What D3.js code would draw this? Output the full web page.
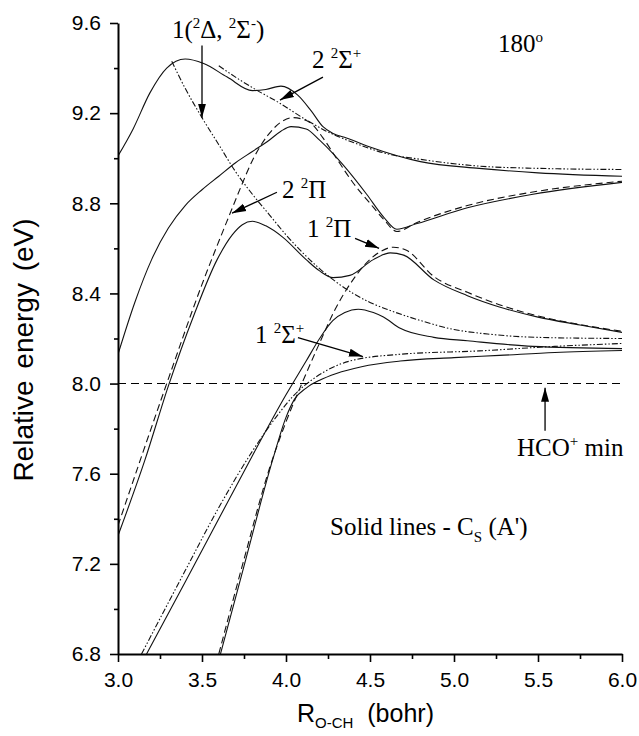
<!DOCTYPE html>
<html>
<head>
<meta charset="utf-8">
<script src="https://cdn.jsdelivr.net/npm/d3@7"></script>
<style>
  body { margin: 0; background: #fff; }
  svg { display: block; }
</style>
</head>
<body>
<div id="chart"></div>
<script>
// Potential curves at 180 deg (R in bohr, E in eV)
const xTicks = [3.0, 3.5, 4.0, 4.5, 5.0, 5.5, 6.0];
const xMinor = [3.25, 3.75, 4.25, 4.75, 5.25, 5.75];
const yTicks = [6.8, 7.2, 7.6, 8.0, 8.4, 8.8, 9.2, 9.6];
const yMinor = [7.0, 7.4, 7.8, 8.2, 8.6, 9.0, 9.4];
const hcoMin = 8.0;

// solid lines (Cs A')
const solidTop = [[3.00,9.01],[3.09,9.13],[3.19,9.29],[3.29,9.40],[3.40,9.44],[3.51,9.42],[3.65,9.36],[3.80,9.30],[3.88,9.305],[3.97,9.32],[4.07,9.28],[4.15,9.21],[4.22,9.14],[4.28,9.11],[4.36,9.09],[4.50,9.05],[4.80,8.985],[5.15,8.955],[5.50,8.935],[6.00,8.92]];
const solidSecond = [[3.00,8.13],[3.10,8.36],[3.20,8.55],[3.30,8.69],[3.40,8.79],[3.50,8.86],[3.60,8.92],[3.70,8.98],[3.80,9.03],[3.90,9.08],[3.97,9.12],[4.03,9.14],[4.12,9.13],[4.20,9.08],[4.28,9.02],[4.34,8.97],[4.48,8.84],[4.58,8.74],[4.66,8.685],[4.78,8.71],[5.08,8.78],[5.47,8.84],[6.00,8.893]];
const solidThird = [[3.00,7.325],[3.16,7.66],[3.30,7.99],[3.45,8.30],[3.59,8.55],[3.68,8.66],[3.74,8.705],[3.80,8.72],[3.88,8.70],[3.98,8.65],[4.12,8.55],[4.20,8.50],[4.28,8.47],[4.38,8.48],[4.52,8.55],[4.62,8.58],[4.70,8.57],[4.88,8.46],[5.08,8.39],[5.27,8.34],[5.50,8.295],[5.75,8.26],[6.00,8.227]];
const solidFourth = [[3.17,6.80],[3.40,7.12],[3.60,7.40],[3.80,7.68],[4.00,7.95],[4.12,8.10],[4.20,8.20],[4.28,8.28],[4.35,8.315],[4.43,8.33],[4.52,8.315],[4.58,8.295],[4.68,8.245],[4.88,8.205],[5.08,8.19],[5.47,8.165],[6.00,8.155]];
const solidLowest = [[3.61,6.80],[3.75,7.19],[3.92,7.66],[4.00,7.85],[4.05,7.93],[4.12,7.98],[4.20,8.015],[4.30,8.045],[4.45,8.075],[4.68,8.10],[5.00,8.115],[5.27,8.125],[5.60,8.138],[6.00,8.147]];

// dashed lines (Pi states)
const pi2 = [[3.00,7.37],[3.29,8.00],[3.50,8.44],[3.67,8.76],[3.73,8.87],[3.80,8.99],[3.89,9.10],[3.98,9.165],[4.04,9.18],[4.14,9.16],[4.22,9.09],[4.30,9.00],[4.40,8.89],[4.50,8.80],[4.58,8.73],[4.66,8.675],[4.78,8.715],[5.08,8.79],[5.47,8.85],[6.00,8.898]];
const pi1 = [[3.60,6.80],[3.75,7.22],[3.90,7.62],[4.00,7.83],[4.10,8.01],[4.20,8.18],[4.30,8.34],[4.38,8.44],[4.46,8.52],[4.55,8.58],[4.64,8.605],[4.72,8.59],[4.88,8.475],[5.08,8.405],[5.27,8.35],[5.50,8.30],[5.75,8.262],[6.00,8.232]];

// dash-dot-dot lines (Sigma / Delta states)
const sigma2 = [[3.60,9.41],[3.72,9.35],[3.83,9.30],[3.95,9.25],[4.12,9.17],[4.24,9.12],[4.40,9.07],[4.60,9.02],[4.80,8.995],[5.15,8.965],[5.50,8.955],[6.00,8.95]];
const deltaSigma = [[3.32,9.43],[3.40,9.31],[3.50,9.18],[3.60,9.06],[3.70,8.94],[3.80,8.84],[3.90,8.75],[4.00,8.66],[4.10,8.58],[4.20,8.51],[4.30,8.45],[4.40,8.40],[4.50,8.36],[4.60,8.33],[4.80,8.28],[5.00,8.24],[5.20,8.22],[5.50,8.205],[6.00,8.20]];
const sigma1 = [[3.14,6.80],[3.40,7.17],[3.60,7.45],[3.80,7.70],[3.95,7.86],[4.05,7.95],[4.18,8.03],[4.38,8.10],[4.68,8.13],[5.15,8.145],[5.60,8.165],[6.00,8.178]];

const W = 639, H = 736;
const svg = d3.select('#chart').append('svg')
    .attr('width', W).attr('height', H)
    .style('background', '#fff');

const x = d3.scaleLinear().domain([3, 6]).range([118, 622]);
const y = d3.scaleLinear().domain([6.8, 9.6]).range([654, 23]);

const serif = "'Liberation Serif', 'Times New Roman', serif";
const sans = "'Liberation Sans', Arial, sans-serif";

svg.append('defs').append('clipPath').attr('id', 'plot')
    .append('rect').attr('x', x(3)).attr('y', y(9.6))
    .attr('width', x(6) - x(3)).attr('height', y(6.8) - y(9.6));

svg.select('defs').append('marker')
    .attr('id', 'arrow').attr('viewBox', '0 -5 14 10')
    .attr('refX', 14).attr('refY', 0).attr('orient', 'auto')
    .attr('markerUnits', 'userSpaceOnUse')
    .attr('markerWidth', 14).attr('markerHeight', 10)
    .append('path').attr('d', 'M0,-4L14,0L0,4Z').attr('fill', '#000');

const line = d3.line().x(d => x(d[0])).y(d => y(d[1])).curve(d3.curveMonotoneX);

const styles = {
    solid: null,
    dashed: '7,4',
    dashdot: '6,2,1.5,2,1.5,2'
};

const curves = [
    { pts: solidTop, kind: 'solid' },
    { pts: solidSecond, kind: 'solid' },
    { pts: solidThird, kind: 'solid' },
    { pts: solidFourth, kind: 'solid' },
    { pts: solidLowest, kind: 'solid' },
    { pts: pi2, kind: 'dashed' },
    { pts: pi1, kind: 'dashed' },
    { pts: sigma2, kind: 'dashdot' },
    { pts: deltaSigma, kind: 'dashdot' },
    { pts: sigma1, kind: 'dashdot' }
];

const plot = svg.append('g').attr('clip-path', 'url(#plot)');

// HCO+ minimum reference line
plot.append('line')
    .attr('x1', x(3)).attr('x2', x(6))
    .attr('y1', y(hcoMin)).attr('y2', y(hcoMin))
    .attr('stroke', '#000').attr('stroke-width', 1.1)
    .attr('stroke-dasharray', '8,5');

plot.selectAll('path.curve').data(curves).enter()
    .append('path').attr('class', 'curve')
    .attr('d', d => line(d.pts))
    .attr('fill', 'none').attr('stroke', '#111')
    .attr('stroke-width', 1.1)
    .attr('stroke-dasharray', d => styles[d.kind]);

// axes
svg.append('g').attr('transform', `translate(${x(3)},0)`)
    .call(d3.axisLeft(y).tickValues(yTicks).tickFormat(d3.format('.1f'))
        .tickSize(8).tickSizeOuter(0).tickPadding(9));
svg.append('g').attr('transform', `translate(${x(3)},0)`)
    .call(d3.axisLeft(y).tickValues(yMinor).tickFormat('').tickSize(4).tickSizeOuter(0))
    .select('.domain').remove();

svg.append('g').attr('transform', `translate(0,${y(6.8)})`)
    .call(d3.axisBottom(x).tickValues(xTicks).tickFormat(d3.format('.1f'))
        .tickSize(8).tickSizeOuter(0).tickPadding(10));
svg.append('g').attr('transform', `translate(0,${y(6.8)})`)
    .call(d3.axisBottom(x).tickValues(xMinor).tickFormat('').tickSize(5).tickSizeOuter(0))
    .select('.domain').remove();

svg.selectAll('.domain').attr('stroke', '#000').attr('stroke-width', 2);
svg.selectAll('.tick line').attr('stroke', '#000').attr('stroke-width', 1.6);
svg.selectAll('.tick text').attr('font-family', sans).attr('font-size', 21).attr('fill', '#000');

// axis titles
svg.append('text')
    .attr('transform', 'translate(33,350) rotate(-90)')
    .attr('text-anchor', 'middle')
    .attr('font-family', sans).attr('font-size', 28)
    .attr('word-spacing', 4)
    .text('Relative energy (eV)');

const xt = svg.append('text')
    .attr('x', 297).attr('y', 722)
    .attr('font-family', sans).attr('font-size', 25);
xt.append('tspan').text('R');
xt.append('tspan').attr('font-size', 15).attr('dy', 6).text('O-CH');
xt.append('tspan').attr('dy', -6).text('\u00a0\u00a0(bohr)');

// annotations: text with superscripts, positions in data units
function label(px, py, parts, size) {
    const t = svg.append('text')
        .attr('x', x(px)).attr('y', y(py))
        .attr('font-family', serif).attr('font-size', size || 25).attr('fill', '#000');
    let shift = 0;
    parts.forEach(p => {
        const target = p.sup ? -10 : p.sub ? 7 : 0;
        t.append('tspan')
            .attr('dy', target - shift)
            .attr('font-size', (p.sup || p.sub) ? 15 : null)
            .text(p.t);
        shift = target;
    });
}

label(3.321, 9.533, [{t: '1('}, {t: '2', sup: true}, {t: '\u0394, '}, {t: '2', sup: true}, {t: '\u03a3'}, {t: '-', sup: true}, {t: ')'}]);
label(5.262, 9.471, [{t: '180'}, {t: 'o', sup: true}]);
label(4.155, 9.40, [{t: '2 '}, {t: '2', sup: true}, {t: '\u03a3'}, {t: '+', sup: true}]);
label(3.976, 8.822, [{t: '2 '}, {t: '2', sup: true}, {t: '\u03a0'}]);
label(4.125, 8.649, [{t: '1 '}, {t: '2', sup: true}, {t: '\u03a0'}]);
label(3.815, 8.178, [{t: '1 '}, {t: '2', sup: true}, {t: '\u03a3'}, {t: '+', sup: true}]);
label(5.375, 7.68, [{t: 'HCO'}, {t: '+', sup: true}, {t: ' min'}]);
label(4.262, 7.329, [{t: 'Solid lines - C'}, {t: 'S', sub: true}, {t: ' (A\')'}]);

const arrows = [
    [[3.50, 9.50], [3.50, 9.18]],
    [[4.22, 9.36], [3.964, 9.258]],
    [[3.946, 8.849], [3.679, 8.756]],
    [[4.411, 8.644], [4.554, 8.60]],
    [[4.071, 8.204], [4.458, 8.12]],
    [[5.542, 7.791], [5.542, 7.982]]
];
svg.selectAll('line.arrow').data(arrows).enter()
    .append('line').attr('class', 'arrow')
    .attr('x1', d => x(d[0][0])).attr('y1', d => y(d[0][1]))
    .attr('x2', d => x(d[1][0])).attr('y2', d => y(d[1][1]))
    .attr('stroke', '#000').attr('stroke-width', 1.3)
    .attr('marker-end', 'url(#arrow)');
</script>
</body>
</html>
